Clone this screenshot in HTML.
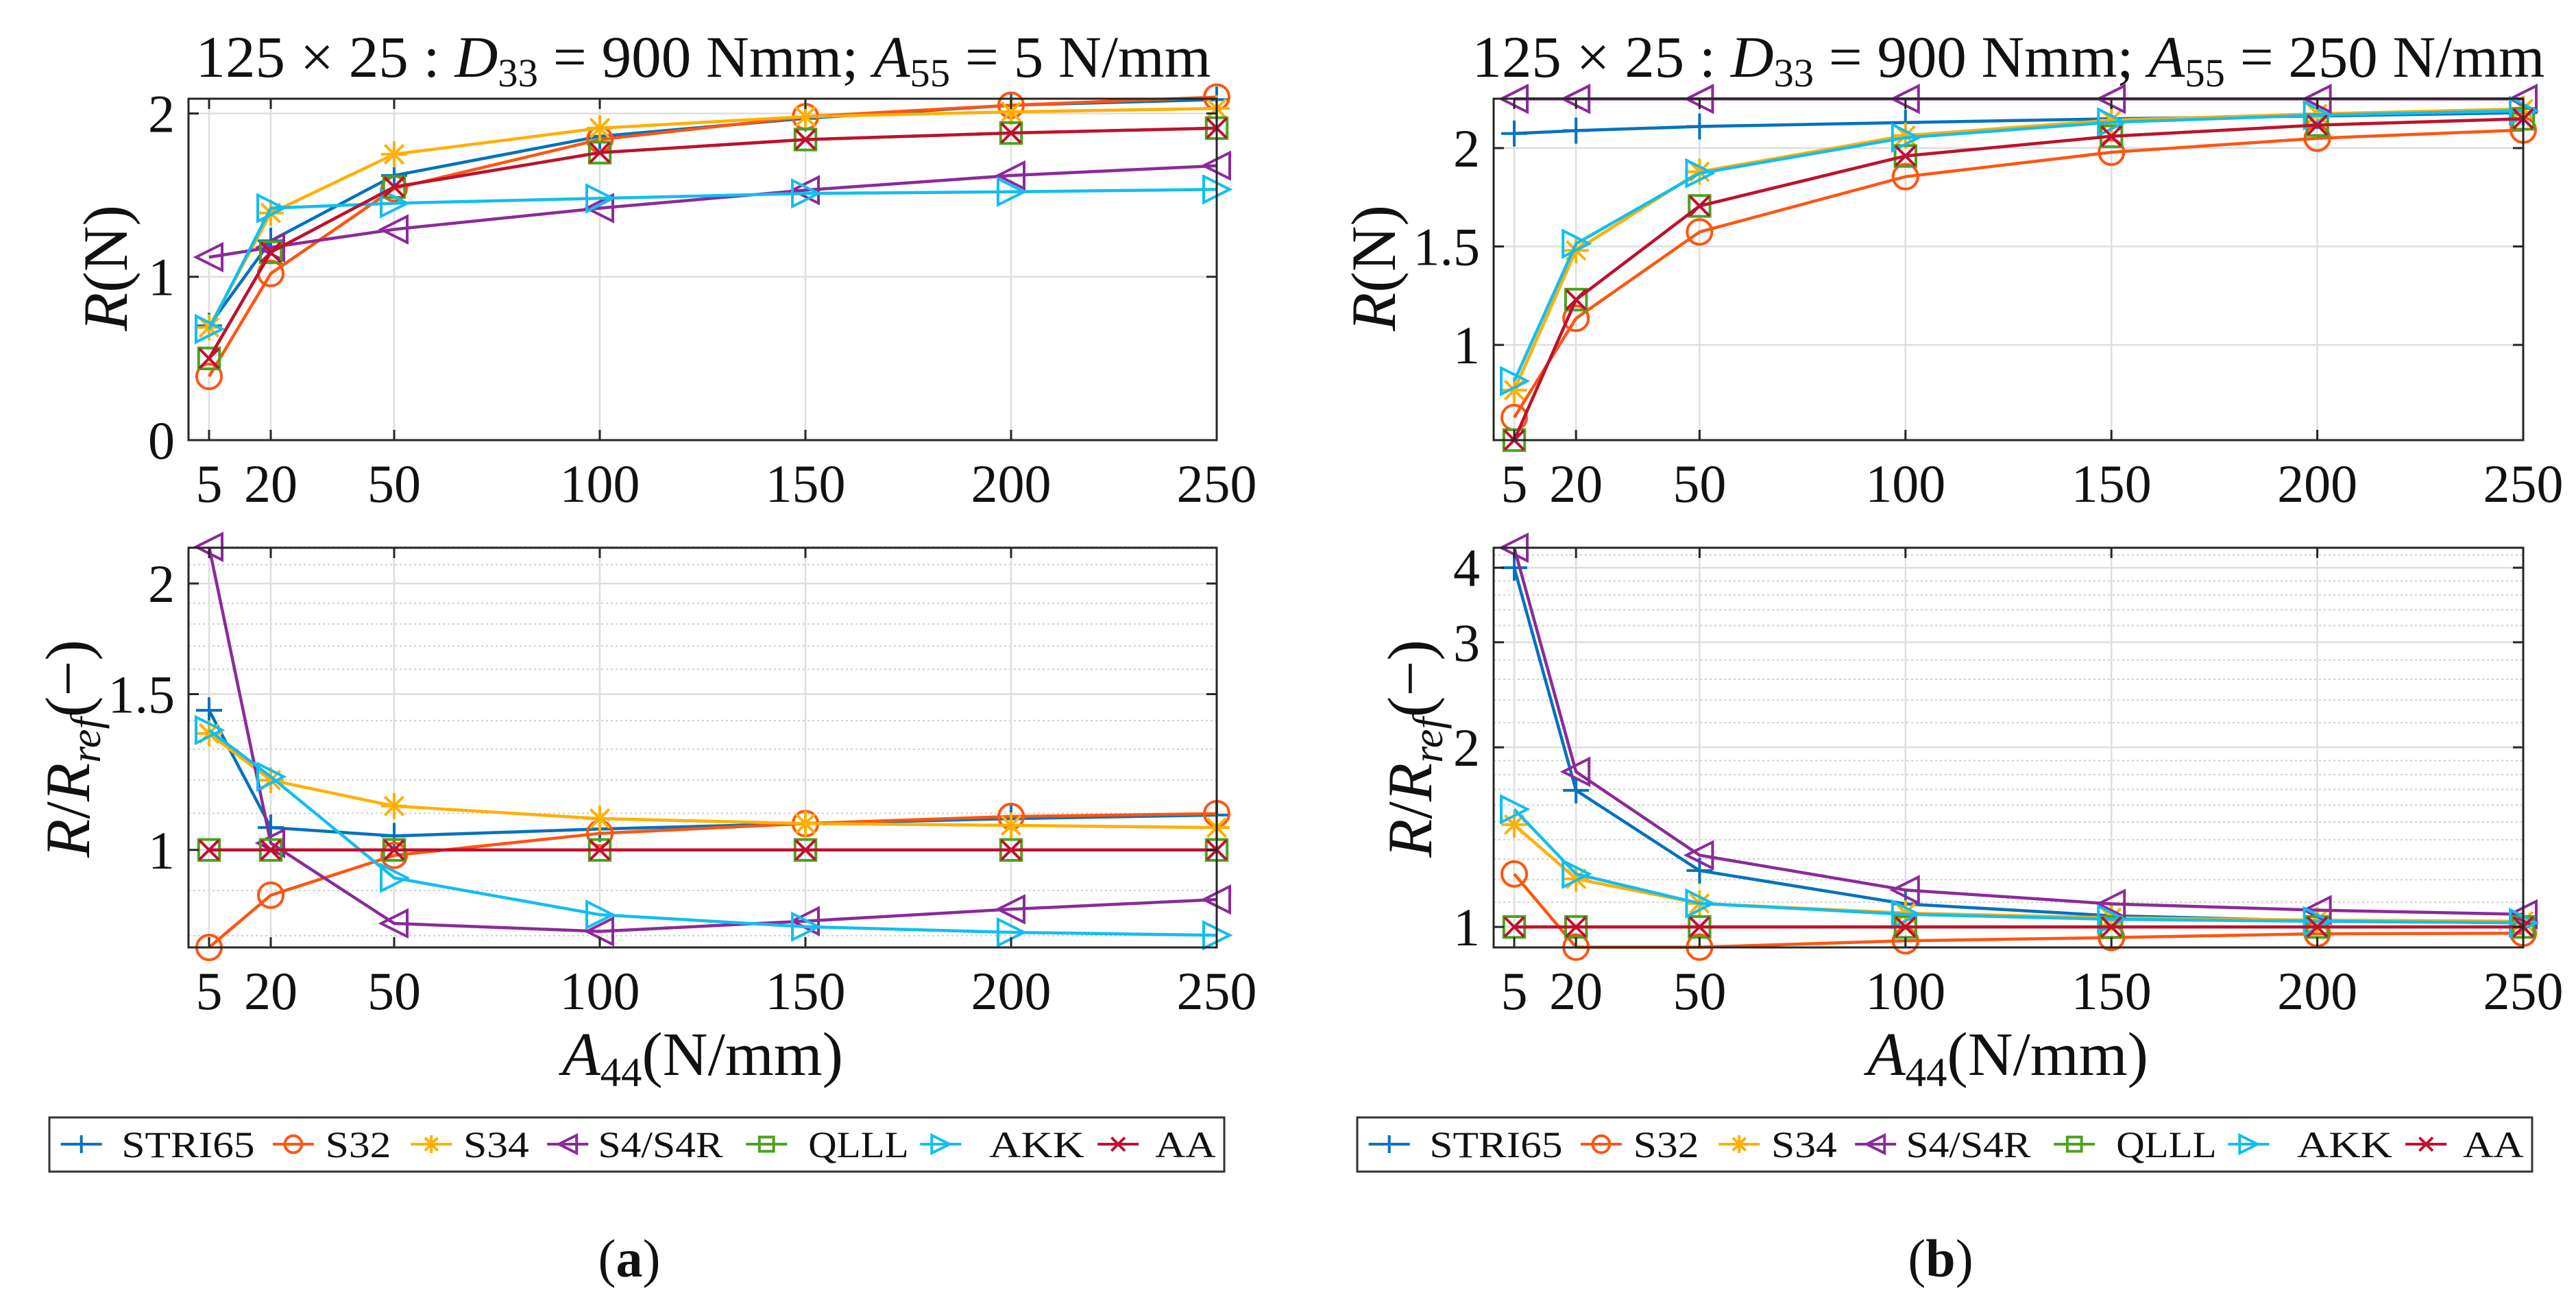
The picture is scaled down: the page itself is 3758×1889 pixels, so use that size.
<!DOCTYPE html>
<html><head><meta charset="utf-8"><style>
html,body{margin:0;padding:0;background:#fff}
svg{display:block}
text{font-family:"Liberation Serif",serif;fill:#111}
</style></head><body>
<svg id="fig" width="3758" height="1889" viewBox="0 0 3758 1889" xmlns="http://www.w3.org/2000/svg">
<g id="root"></g>
</svg>
<script>
const xCats = [5, 20, 50, 100, 150, 200, 250];
const seriesNames = ["STRI65","S32","S34","S4/S4R","QLLL","AKK","AA"];
const seriesColors = ["#0072BD","#FF5511","#FFB000","#8B2A9A","#4CA21F","#12BEF0","#C0102F"];
const seriesMarkers = ["plus","circle","star","tril","square","trir","cross"];
// (a) top: R (N)
const aR_STRI65 = [0.70,1.22,1.62,1.86,1.97,2.05,2.085];
const aR_S32    = [0.39,1.02,1.54,1.84,1.98,2.05,2.10];
const aR_S34    = [0.69,1.39,1.75,1.91,1.98,2.01,2.03];
const aR_S4     = [1.12,1.18,1.29,1.42,1.53,1.62,1.68];
const aR_QLLL   = [0.50,1.15,1.55,1.76,1.84,1.88,1.91];
const aR_AKK    = [0.68,1.42,1.45,1.48,1.51,1.52,1.535];
const aR_AA     = [0.50,1.15,1.55,1.76,1.84,1.88,1.91];
// (a) bottom: R/Rref
const aQ_STRI65 = [1.438,1.06,1.037,1.056,1.071,1.085,1.095];
const aQ_S32    = [0.776,0.889,0.986,1.044,1.071,1.091,1.099];
const aQ_S34    = [1.354,1.199,1.121,1.085,1.071,1.066,1.06];
const aQ_S4     = [2.20,1.018,0.826,0.809,0.831,0.857,0.879];
const aQ_QLLL   = [1,1,1,1,1,1,1];
const aQ_AKK    = [1.366,1.21,0.930,0.845,0.819,0.807,0.801];
const aQ_AA     = [1,1,1,1,1,1,1];
// (b) top
const bR_STRI65 = [2.074,2.089,2.11,2.13,2.149,2.163,2.18];
const bR_S32    = [0.631,1.135,1.574,1.855,1.979,2.05,2.092];
const bR_S34    = [0.77,1.48,1.88,2.064,2.142,2.174,2.199];
const bR_S4     = [2.25,2.25,2.25,2.25,2.25,2.25,2.25];
const bR_QLLL   = [0.516,1.23,1.706,1.96,2.06,2.117,2.149];
const bR_AKK    = [0.816,1.514,1.872,2.053,2.131,2.167,2.19];
const bR_AA     = [0.516,1.23,1.706,1.96,2.06,2.117,2.149];
// (b) bottom
const bQ_STRI65 = [4.0,1.694,1.243,1.093,1.044,1.024,1.016];
const bQ_S32    = [1.227,0.925,0.925,0.948,0.960,0.974,0.976];
const bQ_S34    = [1.484,1.204,1.095,1.055,1.036,1.027,1.022];
const bQ_S4     = [4.32,1.82,1.319,1.153,1.093,1.067,1.050];
const bQ_QLLL   = [1,1,1,1,1,1,1];
const bQ_AKK    = [1.575,1.227,1.095,1.050,1.030,1.022,1.016];
const bQ_AA     = [1,1,1,1,1,1,1];
const xTickLabels = ["5","20","50","100","150","200","250"];
const aTopYTicks = [0,1,2];
const aBotYTicks = [1,1.5,2];
const bTopYTicks = [1,1.5,2];
const bBotYTicks = [1,2,3,4];

const NS="http://www.w3.org/2000/svg";
const root=document.getElementById('root');
function el(tag,attrs,parent){const e=document.createElementNS(NS,tag);for(const k in attrs)e.setAttribute(k,attrs[k]);(parent||root).appendChild(e);return e;}

function marker(g,type,x,y,c,s){
  const w=4;
  let m;
  if(type==="plus"){m=el('path',{d:`M${x-s} ${y}H${x+s}M${x} ${y-s}V${y+s}`,stroke:c,'stroke-width':w,fill:'none'},g);}
  else if(type==="circle"){m=el('circle',{cx:x,cy:y,r:s*0.95,stroke:c,'stroke-width':w,fill:'none'},g);}
  else if(type==="star"){const d=s*0.72;m=el('path',{d:`M${x-s} ${y}H${x+s}M${x} ${y-s}V${y+s}M${x-d} ${y-d}L${x+d} ${y+d}M${x-d} ${y+d}L${x+d} ${y-d}`,stroke:c,'stroke-width':w,fill:'none'},g);}
  else if(type==="tril"){m=el('path',{d:`M${x-s} ${y}L${x+s} ${y-s}L${x+s} ${y+s}Z`,stroke:c,'stroke-width':w,fill:'none'},g);}
  else if(type==="trir"){m=el('path',{d:`M${x+s} ${y}L${x-s} ${y-s}L${x-s} ${y+s}Z`,stroke:c,'stroke-width':w,fill:'none'},g);}
  else if(type==="square"){const d=s*0.8;m=el('rect',{x:x-d,y:y-d,width:2*d,height:2*d,stroke:c,'stroke-width':w,fill:'none'},g);}
  else if(type==="cross"){const d=s*0.75;m=el('path',{d:`M${x-d} ${y-d}L${x+d} ${y+d}M${x-d} ${y+d}L${x+d} ${y-d}`,stroke:c,'stroke-width':w,fill:'none'},g);}
  
  
}

function drawAxes(o){
  const g=el('g',{});
  
  
  const X=v=>o.L+(v-0)/(250-0)*(o.R-o.L);
  const Y=o.log?(v=>o.B-(Math.log(v)-Math.log(o.y0))/(Math.log(o.y1)-Math.log(o.y0))*(o.B-o.T))
               :(v=>o.B-(v-o.y0)/(o.y1-o.y0)*(o.B-o.T));
  if(o.minor){o.minor.forEach(v=>{const y=Y(v);const ln=el('line',{x1:o.L,x2:o.R,y1:y,y2:y,stroke:'#cfcfcf','stroke-width':2,'stroke-dasharray':'3 4'},g);
    });}
  xCats.forEach(v=>{const x=X(v);const ln=el('line',{x1:x,x2:x,y1:o.T,y2:o.B,stroke:'#dedede','stroke-width':2.5},g);
    });
  o.yt.forEach(v=>{const y=Y(v);const ln=el('line',{x1:o.L,x2:o.R,y1:y,y2:y,stroke:'#dedede','stroke-width':2.5},g);
    });
  o.data.forEach((arr,i)=>{
    const sg=el('g',{},g);
    
    
    const pts=arr.map((v,j)=>X(xCats[j]).toFixed(1)+','+Y(v).toFixed(1)).join(' ');
    const pl=el('polyline',{points:pts,fill:'none',stroke:seriesColors[i],'stroke-width':4.5,'stroke-linejoin':'round'},sg);
    
    arr.forEach((v,j)=>marker(sg,seriesMarkers[i],X(xCats[j]),Y(v),seriesColors[i],19));
  });
  const bx=el('rect',{x:o.L,y:o.T,width:o.R-o.L,height:o.B-o.T,fill:'none',stroke:'#262626','stroke-width':3},g);
  
  const tl=15;
  xCats.forEach((v,j)=>{const x=X(v);
    el('path',{d:`M${x} ${o.B}V${o.B-tl}M${x} ${o.T}V${o.T+tl}`,stroke:'#262626','stroke-width':3},g);
    const t=el('text',{x:x,y:o.B+90,'font-size':78,'text-anchor':'middle'},g);t.textContent=xTickLabels[j];
    });
  o.yt.forEach(v=>{const y=Y(v);
    el('path',{d:`M${o.L} ${y}H${o.L+tl}M${o.R} ${y}H${o.R-tl}`,stroke:'#262626','stroke-width':3},g);
    const t=el('text',{x:o.L-20,y:y+27,'font-size':78,'text-anchor':'end'},g);t.textContent=String(v);
    });
  return g;
}

const aTopData=[aR_STRI65,aR_S32,aR_S34,aR_S4,aR_QLLL,aR_AKK,aR_AA];
const aBotData=[aQ_STRI65,aQ_S32,aQ_S34,aQ_S4,aQ_QLLL,aQ_AKK,aQ_AA];
const bTopData=[bR_STRI65,bR_S32,bR_S34,bR_S4,bR_QLLL,bR_AKK,bR_AA];
const bBotData=[bQ_STRI65,bQ_S32,bQ_S34,bQ_S4,bQ_QLLL,bQ_AKK,bQ_AA];
const minA=[];for(let v=0.8;v<2.21;v+=0.1)minA.push(+v.toFixed(2));
const minB=[];for(let v=1.1;v<2;v+=0.1)minB.push(+v.toFixed(2));for(let v=2.2;v<4.35;v+=0.2)minB.push(+v.toFixed(2));

drawAxes({name:'axes-a-top',L:275,R:1775,T:144,B:642,y0:0,y1:2.09,log:false,yt:aTopYTicks,data:aTopData});
drawAxes({name:'axes-a-bottom',L:275,R:1775,T:799,B:1382,y0:0.776,y1:2.195,log:true,yt:aBotYTicks,data:aBotData,minor:minA});
drawAxes({name:'axes-b-top',L:2179,R:3681,T:144,B:642,y0:0.516,y1:2.251,log:false,yt:bTopYTicks,data:bTopData});
drawAxes({name:'axes-b-bottom',L:2179,R:3681,T:799,B:1382,y0:0.924,y1:4.32,log:true,yt:bBotYTicks,data:bBotData,minor:minB});

function title(cx,a55,w,name){
  const t=el('text',{x:cx,y:112,'font-size':86,'text-anchor':'middle',textLength:w,lengthAdjust:'spacingAndGlyphs'});
  
  t.innerHTML=`125 × 25 : <tspan font-style="italic">D</tspan><tspan font-size="58" dy="14">33</tspan><tspan dy="-14"> = 900 Nmm; </tspan><tspan font-style="italic">A</tspan><tspan font-size="58" dy="14">55</tspan><tspan dy="-14"> = ${a55} N/mm</tspan>`;
}
title(1026,'5',1481,'title-a');
title(2930,'250',1565,'title-b');

function ylab(x,y,html,name){
  const t=el('text',{x:0,y:0,'font-size':92,'text-anchor':'middle',transform:`translate(${x},${y}) rotate(-90)`});
  
  t.innerHTML=html;
}
const rN='<tspan font-style="italic">R</tspan>(N)';
const rR='<tspan font-style="italic">R</tspan>/<tspan font-style="italic">R</tspan><tspan font-style="italic" font-size="62" dy="16">ref</tspan><tspan dy="-16">(−)</tspan>';
ylab(185,391,rN,'y-axis-title-a-top');
ylab(130,1092,rR,'y-axis-title-a-bottom');
ylab(2035,391,rN,'y-axis-title-b-top');
ylab(2088,1092,rR,'y-axis-title-b-bottom');

function xlab(cx,name){
  const t=el('text',{x:cx,y:1568,'font-size':90,'text-anchor':'middle',textLength:410,lengthAdjust:'spacingAndGlyphs'});
  
  t.innerHTML='<tspan font-style="italic">A</tspan><tspan font-size="60" dy="16">44</tspan><tspan dy="-16">(N/mm)</tspan>';
}
xlab(1025,'x-axis-title-a');xlab(2929,'x-axis-title-b');

const legLine=[37,166,250,333,454,560,668];
const legText=[74,198,282,364,492,602,703];
const legW=[81,40,40,76,61,58,37];
function legend(off,name){
  const g=el('g',{});
  
  const k=2.397;
  const bx=el('rect',{x:off+72,y:1630,width:1714,height:79,fill:'#fff',stroke:'#333','stroke-width':3},g);
  
  seriesNames.forEach((n,i)=>{
    const eg=el('g',{},g);
    
    const x0=off+legLine[i]*k, x1=x0+60, yc=1669;
    el('line',{x1:x0,x2:x1,y1:yc,y2:yc,stroke:seriesColors[i],'stroke-width':4},eg);
    marker(eg,seriesMarkers[i],(x0+x1)/2,yc,seriesColors[i],13);
    const t=el('text',{x:off+legText[i]*k,y:1688,'font-size':54,textLength:legW[i]*k,lengthAdjust:'spacingAndGlyphs'},eg);
    t.textContent=n;
    
  });
}
legend(0,'legend-a');legend(1908,'legend-b');

function cap(x,s,name){
  const t=el('text',{x:x,y:1862,'font-size':78,'text-anchor':'middle'});
  
  t.innerHTML=`(<tspan font-weight="bold">${s}</tspan>)`;
}
cap(918,'a','caption-a');cap(2831,'b','caption-b');
</script>
</body></html>
